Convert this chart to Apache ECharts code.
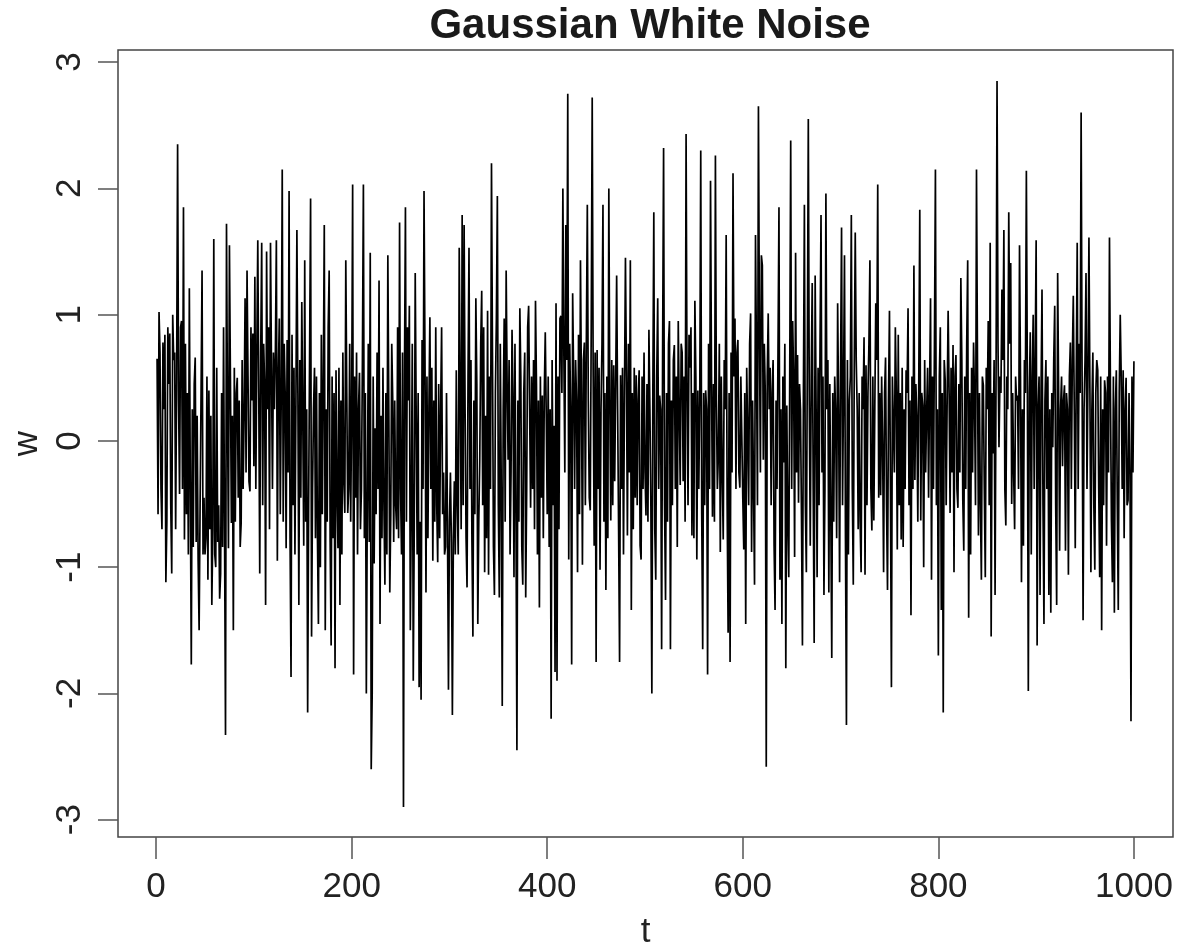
<!DOCTYPE html>
<html>
<head>
<meta charset="utf-8">
<script src="https://cdn.jsdelivr.net/npm/echarts@6/dist/echarts.min.js"></script>
<style>html,body{margin:0;padding:0;background:#fff}#c{width:1195px;height:944px}</style>
</head>
<body>
<div id="c"></div>
<script>
const titleText = "Gaussian White Noise";
const xName = "t";
const yName = "w";
const xTicks = [0, 200, 400, 600, 800, 1000];
const yTicks = [-3, -2, -1, 0, 1, 2, 3];

// w values for t = 1..250
const w1 = [
0.65,-0.58,1.02,0.7,-0.38,-0.7,0.78,0.25,0.84,-1.12,
-0.64,0.9,0.45,0.85,-0.51,-1.05,1.0,0.64,0.7,-0.7,
0.51,2.35,0.32,-0.42,0.9,0.95,-0.38,1.85,-0.78,0.77,
-0.58,0.38,-0.9,1.21,-0.38,-1.77,0.25,-0.84,0.45,0.66,
-0.8,0.2,-0.95,-1.5,-0.51,0.38,1.35,-0.9,-0.45,-0.9,
-0.77,0.51,-1.1,0.4,-0.7,0.2,-1.3,-0.7,1.6,-0.9,
-1.0,0.58,-0.8,-0.51,-1.25,-1.05,0.38,-0.84,0.9,-0.7,
-2.33,1.72,0.25,-0.85,1.55,0.51,-0.65,0.2,-1.5,0.58,
-0.64,0.38,0.5,-0.45,0.32,-0.84,-0.65,0.64,-0.38,0.2,
1.13,-0.25,1.35,0.51,-0.32,-0.4,0.9,0.32,0.85,-0.2,
1.3,-0.38,0.7,1.59,0.38,-1.05,0.7,1.57,-0.51,0.77,
0.45,-1.3,1.5,0.25,0.9,-0.7,1.57,0.58,-0.38,0.7,
0.25,0.7,1.59,-0.95,0.51,0.97,-0.58,0.38,2.15,-0.64,
0.77,0.38,-0.85,0.8,-0.25,1.98,-0.77,-1.87,0.84,-0.51,
0.58,-0.9,0.32,1.67,0.38,-1.3,0.64,-0.45,1.1,0.2,
-0.83,1.43,-0.64,0.25,-2.15,-0.51,0.7,1.92,-1.55,-0.38,
0.25,0.58,-0.77,0.51,-0.75,-1.45,0.38,-1.0,0.84,-0.58,
0.45,1.71,-1.5,0.25,-0.64,0.9,1.35,-0.8,-1.62,0.51,
-0.77,0.38,-1.8,0.56,-0.38,-0.85,0.58,-1.3,0.32,-0.9,
0.7,-0.32,-0.57,1.43,0.38,-0.57,-0.38,0.77,-0.64,0.25,
2.03,-1.85,0.51,-0.45,0.7,-0.9,0.25,0.54,-0.7,-0.38,
0.64,2.03,-0.77,0.38,-2.0,-0.51,0.77,-0.8,1.49,-2.6,
-2.0,0.51,-0.97,0.1,-0.58,0.7,-0.38,1.27,-1.45,0.2,
-0.77,0.58,-0.51,-1.14,0.38,-0.9,1.47,0.25,-1.2,-0.58,
0.77,0.32,-0.8,0.32,-0.51,-0.7,0.9,-0.77,1.73,-0.38
];
// w values for t = 251..500
const w2 = [
-0.9,0.7,-2.9,0.51,1.85,-0.64,0.9,0.32,1.07,-1.5,
-0.51,0.77,-1.9,-0.7,1.33,0.2,-0.9,0.38,-1.95,-0.64,
-2.05,0.8,-0.38,1.98,0.64,-1.2,0.51,-0.77,0.25,0.98,
-0.38,0.58,-0.95,0.32,-0.64,0.9,-0.51,-0.96,0.45,-0.77,
0.25,0.9,-0.58,-0.25,-0.9,-0.84,0.38,-0.7,-1.97,-0.64,
-0.25,-0.8,-2.17,-0.77,-0.32,-0.9,0.56,-0.51,-0.9,1.53,
0.38,-0.7,1.79,-0.51,1.71,0.25,-0.77,-1.16,0.51,1.53,
-0.38,0.64,-0.8,-1.55,0.32,-0.58,1.13,0.45,-1.45,-0.64,
-0.15,0.77,1.19,-0.51,0.9,-1.04,0.2,-0.77,1.03,-1.06,
0.51,-0.38,2.2,0.7,-0.84,-1.22,0.38,0.97,1.94,-0.51,
-1.24,0.77,-0.38,-2.1,0.25,0.97,-0.64,1.35,0.45,-0.15,
0.64,-0.9,-0.25,0.88,0.38,-1.08,0.77,-0.51,-2.45,0.32,
-0.64,1.05,0.51,-0.84,-1.14,0.38,0.7,-1.24,-0.38,0.9,
1.07,0.25,-0.53,0.51,-0.38,0.64,-0.7,1.11,0.45,-0.9,
0.32,-1.32,0.51,-0.45,0.36,-0.77,0.38,0.86,0.2,-0.58,
0.51,-0.84,0.25,-2.2,0.64,-0.51,0.12,-1.83,1.09,-1.9,
0.51,-0.7,0.97,0.99,0.38,2.0,0.7,-0.25,1.71,0.64,
2.75,-0.94,0.77,0.25,-1.77,1.17,0.51,-0.38,0.64,0.32,
-1.04,0.84,-0.58,1.43,0.38,-0.98,0.64,0.78,-0.51,0.77,
1.87,0.32,-0.45,-0.55,0.9,2.72,0.51,-0.83,0.7,-1.75,
0.72,-0.38,0.58,-1.02,0.25,0.77,1.87,-0.64,0.38,-1.18,
0.51,-0.77,2.0,0.32,-0.63,0.64,-0.51,0.6,-0.32,0.45,
1.31,0.25,-0.7,-1.75,0.52,-0.38,0.58,-0.9,0.38,1.45,
0.51,-0.75,0.77,-0.25,1.43,-1.34,0.38,-0.7,0.58,-0.45,
0.52,-0.51,0.32,0.56,-0.83,-0.94,0.51,-0.38,0.7,-0.25
];
// w values for t = 501..750
const w3 = [
-0.59,0.45,-0.64,0.88,0.25,-0.51,-2.0,0.38,1.81,-0.7,
-1.1,0.51,1.13,-0.38,0.36,0.25,-1.65,0.7,2.32,-0.51,
-1.26,0.38,-0.64,0.77,0.95,-1.65,0.32,-0.51,0.64,0.76,
-0.38,0.51,-0.84,0.95,0.25,-0.35,0.77,0.7,-0.32,0.51,
-0.64,2.43,0.38,-0.51,0.84,0.58,0.9,-0.75,0.38,-0.77,
1.11,0.51,-0.94,0.4,-0.38,0.32,2.3,-0.58,-1.65,0.38,
-0.51,0.4,0.25,-1.85,0.77,-0.38,2.06,0.51,-0.6,0.45,
-0.64,2.26,0.32,-0.38,-0.13,0.77,-0.88,0.51,-0.25,-0.78,
0.64,0.25,1.63,-0.51,-1.52,0.38,-1.75,0.7,-0.25,2.12,
0.51,0.97,-0.38,0.7,0.8,-0.25,-0.37,0.51,0.5,-0.45,
-0.86,0.38,-1.45,0.58,0.08,-0.51,0.77,1.01,-0.88,0.32,
-0.38,-1.14,1.63,0.64,-0.51,2.65,0.9,-0.25,1.47,1.39,
-0.15,0.77,0.38,-2.58,0.51,1.01,0.25,0.58,-0.51,0.38,
0.64,-0.83,-1.34,0.32,-0.38,0.7,1.85,-1.1,0.25,-1.45,
0.51,-0.17,0.77,-1.8,0.28,-0.64,-1.08,0.51,2.38,-0.38,
0.95,0.51,-0.92,1.49,-0.25,0.68,-0.49,0.45,0.25,-0.58,
-1.62,0.38,1.87,-0.51,-1.04,0.64,2.55,0.32,-0.83,0.51,
1.25,-0.38,-1.6,1.31,0.25,-1.08,0.58,-0.51,0.77,1.79,
-0.25,0.51,-1.22,-0.38,1.96,0.25,0.64,-1.2,0.45,-0.58,
-1.72,0.38,-0.64,0.51,0.2,-0.77,1.09,0.25,-1.12,0.58,
1.69,-0.51,0.38,1.47,-0.77,-2.25,0.64,-0.9,0.32,0.51,
1.79,-0.38,-1.14,0.58,1.65,0.64,0.25,-0.7,0.38,-0.64,
-1.04,0.51,0.25,0.82,-1.06,0.6,-0.51,0.38,0.77,1.43,
-0.38,-0.71,0.51,-0.63,0.25,1.09,0.64,2.03,-0.45,0.38,
-0.43,0.51,-0.04,-1.04,0.38,0.66,-0.51,-1.18,0.32,1.03
];
// w values for t = 751..1000
const w4 = [
-0.38,-1.95,0.51,0.52,-0.25,0.9,0.38,-0.86,0.84,-0.51,
0.38,-0.78,0.58,-0.84,0.25,-0.38,0.56,0.38,1.05,-0.51,
0.32,-1.38,0.51,-0.38,1.39,-0.31,0.45,0.2,-0.64,0.51,
1.83,-0.63,0.38,0.28,-1.0,0.64,-0.25,0.22,0.58,-0.45,
0.38,1.13,-1.1,0.51,-0.38,0.77,2.15,-0.51,0.25,-1.7,
0.51,0.9,-1.34,0.38,-2.15,0.64,0.48,-0.51,0.32,1.03,
0.38,-0.57,0.58,-0.25,0.76,-1.04,0.51,0.68,-0.38,-0.53,
0.45,-0.25,1.29,0.64,-0.47,-0.87,0.51,-0.38,0.77,1.43,
-1.4,0.38,-0.9,0.58,-0.25,0.78,0.32,-0.51,2.15,0.64,
-0.75,0.38,-0.51,-1.1,0.51,0.44,-0.38,-1.08,0.58,0.25,
0.95,-0.51,1.57,-1.55,0.38,-0.1,0.64,-1.22,0.51,2.85,
0.77,-0.05,0.51,0.38,1.2,0.64,1.67,-0.38,-0.67,0.51,
0.25,1.81,0.77,1.41,-0.5,0.38,-0.25,-0.7,0.51,0.32,
0.36,-0.38,1.55,0.51,-1.12,0.25,-0.83,0.64,0.38,2.14,
0.51,-1.98,0.38,0.86,-0.9,0.51,1.0,-0.38,0.64,1.59,
-1.62,0.25,0.51,-1.22,0.38,1.2,-0.51,-1.45,0.32,0.64,
-0.38,0.51,-1.22,0.25,-1.36,0.38,-0.05,0.64,1.07,-0.51,
-1.3,1.33,0.38,-0.87,0.25,0.51,-0.2,0.32,0.44,-0.87,
0.38,0.25,-1.06,0.51,0.78,-0.38,0.64,1.15,0.25,-0.85,
0.51,1.57,-0.38,0.77,0.38,2.6,0.51,-1.42,0.25,0.64,
1.33,-0.38,0.51,1.61,0.38,-1.04,0.25,0.7,-0.51,-1.02,
0.38,0.64,0.56,-0.38,-1.08,0.51,-1.5,0.25,-0.51,0.48,
0.38,-0.83,0.51,-0.25,1.61,0.38,-0.64,-1.12,0.51,-1.36,
0.25,0.56,-0.51,-1.34,0.38,1.0,0.51,-0.38,0.56,-0.77,
0.25,0.5,-0.51,-0.47,0.38,-0.25,-2.22,0.51,-0.25,0.63
];

const w = w1.concat(w2, w3, w4);
const series = w.map((v, i) => [i + 1, v]);

const FONT = "'Liberation Sans', Arial, Helvetica, sans-serif";
const chart = echarts.init(document.getElementById('c'), null, {renderer: 'canvas'});
chart.setOption({
  animation: false,
  backgroundColor: '#ffffff',
  title: {
    text: titleText,
    left: 645,
    textAlign: 'center',
    top: 0,
    textStyle: {fontFamily: FONT, fontWeight: 'bold', fontSize: 42, color: '#1a1a1a'}
  },
  grid: {
    left: 118, right: 22, top: 50, bottom: 107,
    outerBoundsMode: 'none',
    containLabel: false,
    show: true,
    borderColor: '#444',
    borderWidth: 1.5,
    backgroundColor: 'transparent'
  },
  xAxis: {
    type: 'value',
    min: -38.96,
    max: 1039.96,
    name: xName,
    nameLocation: 'middle',
    nameGap: 78,
    nameTextStyle: {fontFamily: FONT, fontSize: 35, color: '#222'},
    axisLine: {show: false, onZero: false},
    splitLine: {show: false},
    axisTick: {show: true, customValues: xTicks, length: 22, inside: false,
      lineStyle: {color: '#555', width: 1.5}},
    axisLabel: {show: true, customValues: xTicks, margin: 33,
      formatter: v => String(v),
      fontFamily: FONT, fontSize: 35, color: '#222'}
  },
  yAxis: {
    type: 'value',
    min: -3.137,
    max: 3.096,
    name: yName,
    nameLocation: 'middle',
    nameGap: 72,
    nameRotate: 90,
    nameTextStyle: {fontFamily: FONT, fontSize: 35, color: '#222'},
    axisLine: {show: false, onZero: false},
    splitLine: {show: false},
    axisTick: {show: true, customValues: yTicks, length: 20, inside: false,
      lineStyle: {color: '#555', width: 1.5}},
    axisLabel: {show: true, customValues: yTicks, margin: 30, rotate: 90,
      formatter: v => String(v),
      fontFamily: FONT, fontSize: 35, color: '#222'}
  },
  series: [{
    type: 'line',
    data: series,
    showSymbol: false,
    symbol: 'none',
    sampling: null,
    lineStyle: {color: '#000', width: 1.7},
    silent: true,
    z: 2
  }]
});
</script>
</body>
</html>
